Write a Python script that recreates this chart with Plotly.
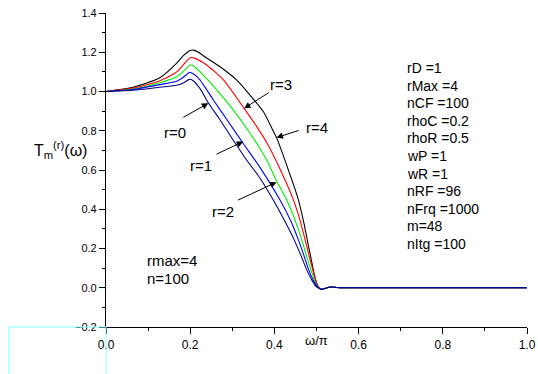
import plotly.graph_objects as go

# ---- data ----
x_r4 = [0, 0.064, 0.128, 0.168, 0.185, 0.2, 0.208, 0.22, 0.235, 0.271, 0.31, 0.342, 0.374, 0.397, 0.405, 0.43, 0.457, 0.47, 0.478, 0.486, 0.493, 0.499, 0.505]
y_r4 = [1.0, 1.021, 1.07, 1.145, 1.185, 1.209, 1.211, 1.2, 1.177, 1.126, 1.059, 0.982, 0.897, 0.8, 0.765, 0.62, 0.448, 0.33, 0.244, 0.16, 0.085, 0.03, 0.002]

x_r3 = [0, 0.064, 0.128, 0.168, 0.185, 0.2, 0.21, 0.239, 0.279, 0.328, 0.358, 0.383, 0.41, 0.445, 0.46, 0.473, 0.484, 0.492, 0.499, 0.505]
y_r3 = [1.0, 1.017, 1.055, 1.1, 1.14, 1.172, 1.17, 1.135, 1.059, 0.914, 0.821, 0.735, 0.62, 0.448, 0.35, 0.244, 0.15, 0.085, 0.035, 0.003]

x_r2 = [0, 0.064, 0.128, 0.168, 0.185, 0.2, 0.208, 0.223, 0.263, 0.302, 0.342, 0.382, 0.405, 0.429, 0.448, 0.465, 0.478, 0.487, 0.496, 0.504]
y_r2 = [1.0, 1.013, 1.045, 1.075, 1.105, 1.135, 1.13, 1.101, 1.008, 0.906, 0.787, 0.65, 0.545, 0.448, 0.35, 0.244, 0.15, 0.09, 0.035, 0.003]

x_r1 = [0, 0.064, 0.128, 0.168, 0.185, 0.198, 0.207, 0.223, 0.255, 0.287, 0.326, 0.366, 0.413, 0.44, 0.457, 0.47, 0.48, 0.492, 0.504]
y_r1 = [1.0, 1.01, 1.035, 1.052, 1.075, 1.097, 1.09, 1.059, 0.957, 0.857, 0.735, 0.612, 0.448, 0.335, 0.244, 0.165, 0.1, 0.04, 0.002]

x_r0 = [0, 0.064, 0.128, 0.168, 0.185, 0.198, 0.207, 0.223, 0.243, 0.271, 0.302, 0.334, 0.366, 0.397, 0.423, 0.447, 0.462, 0.475, 0.49, 0.5]
y_r0 = [1.0, 1.006, 1.022, 1.032, 1.045, 1.062, 1.055, 1.016, 0.943, 0.855, 0.753, 0.651, 0.558, 0.448, 0.346, 0.244, 0.17, 0.1, 0.035, 0.005]

x_tail = [0.512, 0.522, 0.532, 0.545, 0.56, 0.6, 0.7, 0.8, 0.9, 1.0]
y_tail = [-0.008, -0.003, 0.004, 0.002, 0.0, 0.0, 0.0, 0.0, 0.0, 0.0]

series_names = ["r=4", "r=3", "r=2", "r=1", "r=0"]
series_x = [x_r4, x_r3, x_r2, x_r1, x_r0]
series_y = [y_r4, y_r3, y_r2, y_r1, y_r0]
series_colors = ["#000000", "#ff0000", "#00ee00", "#0000ff", "#000080"]

x_ticks = [0.0, 0.2, 0.4, 0.6, 0.8, 1.0]
y_ticks = [-0.2, 0.0, 0.2, 0.4, 0.6, 0.8, 1.0, 1.2, 1.4]

# labels: (text, text_x, text_y, arrow_start_x, arrow_start_y, arrow_end_x, arrow_end_y)
curve_labels = [
    ("r=0", 0.164, 0.79, 0.180, 0.864, 0.243, 0.940),
    ("r=1", 0.226, 0.621, 0.259, 0.677, 0.326, 0.745),
    ("r=2", 0.278, 0.387, 0.310, 0.443, 0.405, 0.538),
    ("r=3", 0.416, 1.038, 0.390, 0.999, 0.328, 0.914),
    ("r=4", 0.501, 0.819, 0.461, 0.804, 0.405, 0.765),
]

param_lines = ["rD =1", "rMax =4", "nCF =100", "rhoC =0.2", "rhoR =0.5", "wP =1",
               "wR =1", "nRF =96", "nFrq =1000", "m=48", "nItg =100"]
info_lines = ["rmax=4", "n=100"]

FONT = "Liberation Sans, Arial, sans-serif"

fig = go.Figure()
for name, xs, ys, col in zip(series_names, series_x, series_y, series_colors):
    fig.add_trace(go.Scatter(
        x=xs + x_tail, y=ys + y_tail, mode="lines", name=name,
        line=dict(color=col, width=1.1, shape="spline", smoothing=0.6),
        showlegend=False, hoverinfo="skip"))

annotations = []
for txt, tx, ty, sx, sy, ex, ey in curve_labels:
    annotations.append(dict(x=ex, y=ey, ax=sx, ay=sy, xref="x", yref="y",
                            axref="x", ayref="y", text="", showarrow=True,
                            arrowhead=2, arrowsize=1.3, arrowwidth=1,
                            arrowcolor="black"))
    annotations.append(dict(x=tx, y=ty, xref="x", yref="y", text=txt,
                            showarrow=False, font=dict(size=15, color="black", family=FONT)))

for i, t in enumerate(param_lines):
    py = 68 + 17.6 * i
    annotations.append(dict(x=0.710, y=(288 - py) / 196.5, xref="x", yref="y", text=t,
                            xanchor="left", yanchor="middle", showarrow=False,
                            font=dict(size=14, color="black", family=FONT)))

for i, t in enumerate(info_lines):
    py = 261 + 18 * i
    annotations.append(dict(x=0.093, y=(288 - py) / 196.5, xref="x", yref="y", text=t,
                            xanchor="left", yanchor="middle", showarrow=False,
                            font=dict(size=15, color="black", family=FONT)))

annotations.append(dict(x=0.5, y=-0.2, xref="x", yref="y", yshift=-13, text="ω/π",
                        showarrow=False, font=dict(size=13, color="black", family=FONT)))
annotations.append(dict(x=-0.175, y=0.70, xref="paper", yref="y", xanchor="left",
                        text="T<sub>m</sub><sup>(r)</sup>(ω)", showarrow=False,
                        font=dict(size=16, color="black", family=FONT)))

fig.update_layout(
    width=538, height=374,
    margin=dict(l=106, r=11, t=13, b=47, autoexpand=False),
    paper_bgcolor="white", plot_bgcolor="white",
    font=dict(family=FONT, color="black", size=12),
    annotations=annotations,
    shapes=[
        dict(type="line", xref="paper", yref="paper", x0=-0.2304, x1=0, y0=0, y1=0,
             line=dict(color="#7fffff", width=1), layer="above"),
        dict(type="line", xref="paper", yref="paper", x0=-0.2304, x1=-0.2304, y0=0, y1=-0.2,
             line=dict(color="#7fffff", width=1), layer="above"),
        dict(type="line", xref="paper", yref="paper", x0=0, x1=0, y0=0, y1=-0.2,
             line=dict(color="#7fffff", width=1), layer="above"),
    ],
)
fig.update_xaxes(range=[0, 1], tickvals=x_ticks, tickformat=".1f", showgrid=False, zeroline=False,
                 showline=True, linecolor="black", linewidth=1.2, ticks="outside", ticklen=6,
                 tickcolor="black", minor=dict(dtick=0.1, ticks="outside", ticklen=3, tickcolor="black"),
                 tickfont=dict(size=12), mirror=False, automargin=False, ticklabeloverflow="allow")
fig.update_yaxes(range=[-0.2, 1.4], tickvals=y_ticks, tickformat=".1f", showgrid=False, zeroline=False,
                 showline=True, linecolor="black", linewidth=1.2, ticks="outside", ticklen=6,
                 tickcolor="black", minor=dict(dtick=0.1, ticks="outside", ticklen=3, tickcolor="black"),
                 tickfont=dict(size=11), mirror=False, automargin=False, ticklabeloverflow="allow")

# remove the page's default body margin so the 538x374 figure fills the window exactly
fig.write_html("out.html", config={"displayModeBar": False},
               post_script="document.body.style.margin='0';document.body.style.overflow='hidden';")
